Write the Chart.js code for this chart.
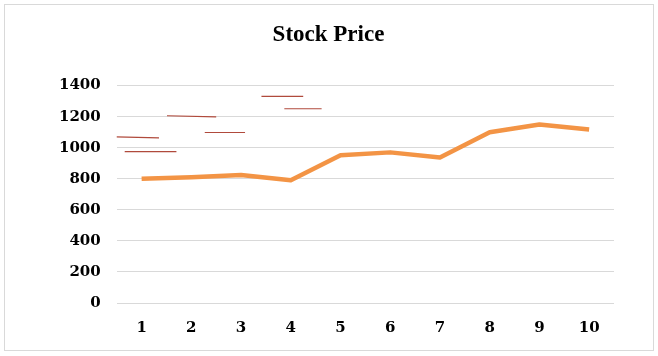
<!DOCTYPE html>
<html>
<head>
<meta charset="utf-8">
<script src="https://cdn.jsdelivr.net/npm/chart.js@4/dist/chart.umd.min.js"></script>
<style>
  html, body { margin: 0; padding: 0; background: #fff; }
  #wrap { width: 658px; height: 356px; }
</style>
</head>
<body>
<div id="wrap"><canvas id="chart" width="658" height="356"></canvas></div>
<script>
const days = [1, 2, 3, 4, 5, 6, 7, 8, 9, 10];
const prices = [800, 810, 825, 790, 952, 970, 937, 1100, 1150, 1118];
const yTicks = [0, 200, 400, 600, 800, 1000, 1200, 1400];

// stray short red marks in the top-left of the plot: [x start, x end, y start, y end]
const marks = [
    [0.17, 1.35, 1072, 1064],
    [0.66, 1.70, 975, 975],
    [1.51, 2.50, 1206, 1198],
    [2.27, 3.08, 1098, 1098],
    [3.41, 4.25, 1330, 1330],
    [3.87, 4.62, 1251, 1251]
];

const tickFont = { family: "'DejaVu Serif'", size: 15, weight: 'bold' };

const frame = {
    id: 'frame',
    afterDraw(chart) {
        const ctx = chart.ctx;
        ctx.save();
        ctx.strokeStyle = '#d9d9d9';
        ctx.lineWidth = 1;
        ctx.strokeRect(4.5, 4.5, 649, 346);
        ctx.restore();
    }
};

const datasets = [{
    label: 'Stock Price',
    data: days.map((d, i) => ({ x: d, y: prices[i] })),
    borderColor: '#f39445',
    borderWidth: 4.5,
    pointRadius: 0,
    tension: 0,
    borderJoinStyle: 'round'
}];
marks.forEach(m => datasets.push({
    label: 'mark',
    data: [{ x: m[0], y: m[2] }, { x: m[1], y: m[3] }],
    borderColor: '#b04a3c',
    borderWidth: 1.2,
    pointRadius: 0
}));

new Chart(document.getElementById('chart'), {
    type: 'line',
    data: { datasets: datasets },
    options: {
        responsive: false,
        animation: false,
        layout: { padding: { left: 43, right: 44, top: 0, bottom: 3 } },
        plugins: {
            legend: { display: false },
            tooltip: { enabled: false },
            title: {
                display: true,
                text: 'Stock Price',
                color: '#000',
                font: { family: "'Liberation Serif'", size: 23, weight: 'bold' },
                padding: { top: 21, bottom: 37 }
            }
        },
        scales: {
            x: {
                type: 'linear',
                min: 0.5,
                max: 10.5,
                afterBuildTicks: s => { s.ticks = days.map(v => ({ value: v })); },
                grid: { display: false, drawTicks: false },
                border: { display: false },
                ticks: { color: '#000', font: tickFont, padding: 16, maxRotation: 0,
                         callback: v => String(v) }
            },
            y: {
                min: 0,
                max: 1400,
                afterBuildTicks: s => { s.ticks = yTicks.map(v => ({ value: v })); },
                grid: { color: '#d9d9d9', drawTicks: false },
                border: { display: false },
                ticks: { color: '#000', font: tickFont, padding: 16,
                         callback: v => String(v) }
            }
        }
    },
    plugins: [frame]
});
</script>
</body>
</html>
